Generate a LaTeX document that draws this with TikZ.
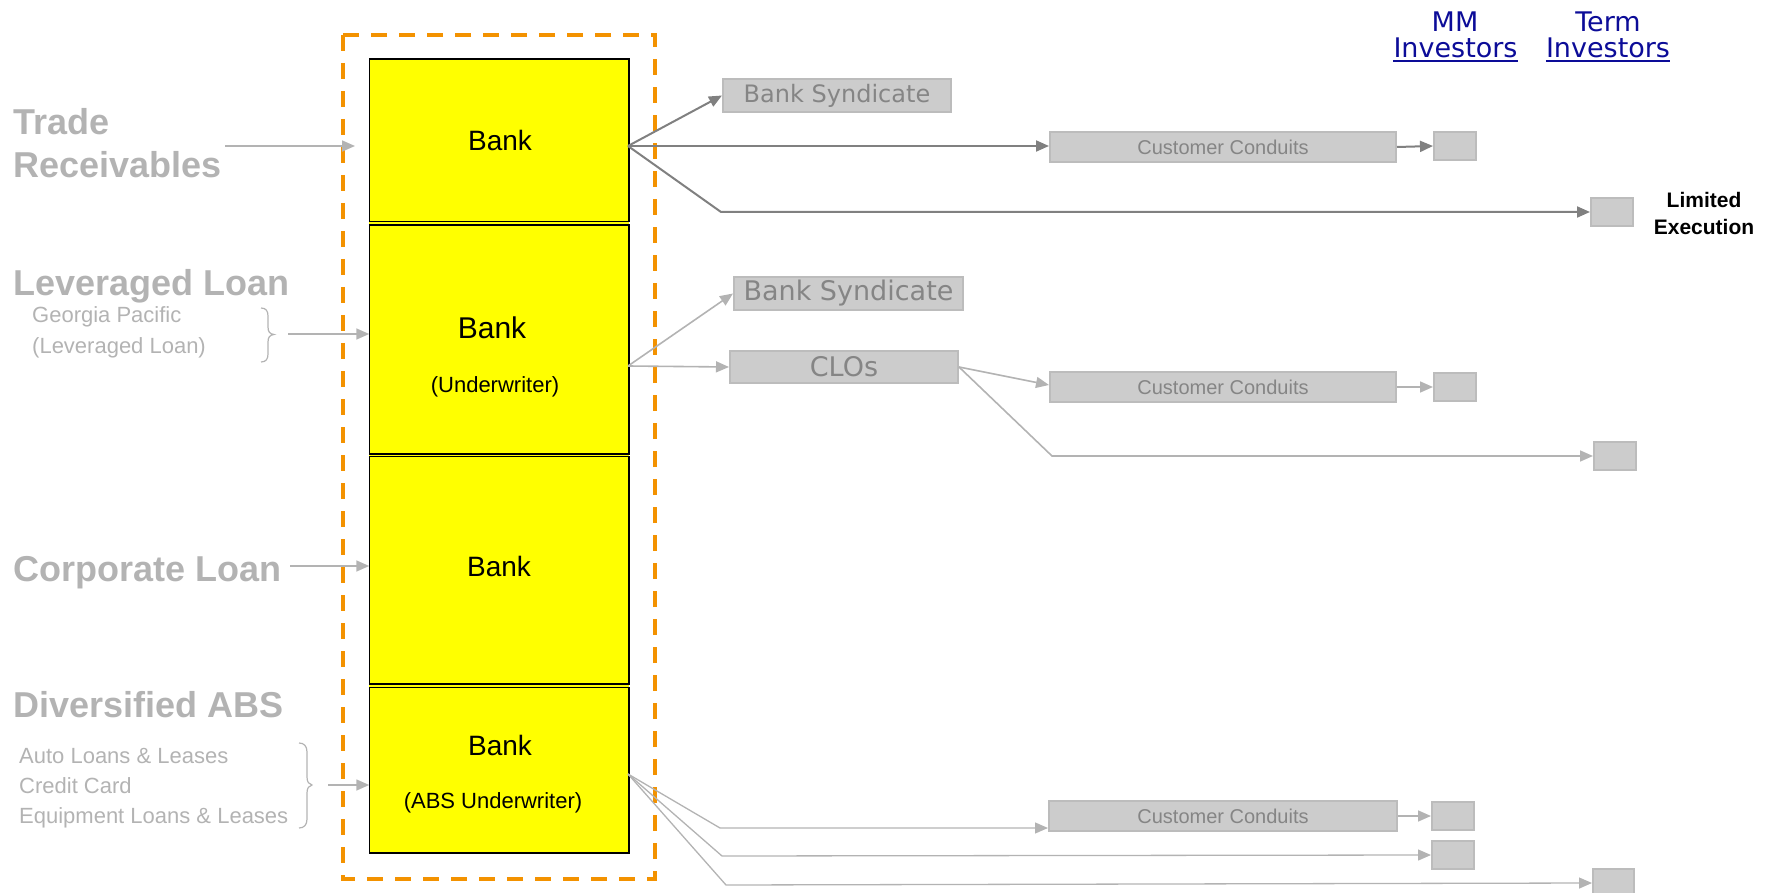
\documentclass[tikz,border=0pt]{standalone}
\usepackage{fontspec}
\setmainfont{Liberation Sans}
\newfontfamily\vfont{DejaVu Sans}
\usetikzlibrary{arrows.meta,calc}

\definecolor{orangeline}{HTML}{F39200}
\definecolor{lightgrey}{HTML}{B3B3B3}
\definecolor{darkgrey}{HTML}{808080}
\definecolor{boxfill}{HTML}{CCCCCC}
\definecolor{boxline}{HTML}{BCBCBC}
\definecolor{boxtext}{HTML}{858585}
\definecolor{invblue}{HTML}{0C0C98}
\definecolor{bankyellow}{HTML}{FFFF00}

\newcommand{\setfs}[1]{\fontsize{#1}{#1}\selectfont}

\tikzset{
  tri/.style={-{Triangle[length=13pt,width=11pt]}},
  darkconn/.style={draw=darkgrey, line width=2pt},
  lightconn/.style={draw=lightgrey, line width=1.6pt},
  thinconn/.style={draw=lightgrey, line width=1.3pt},
  greybox/.style={draw=boxline, line width=2pt, fill=boxfill, inner sep=0pt, text=boxtext},
  bankbox/.style={draw=black, line width=1.5pt, inner sep=0pt, minimum width=258pt},
  banktext/.style={inner sep=0pt, text=black},
  srchead/.style={anchor=base west, inner sep=0pt, text=lightgrey, font=\setfs{36}\bfseries},
  srcsub/.style={anchor=base west, inner sep=0pt, text=lightgrey, font=\setfs{22}},
  invtext/.style={anchor=base, inner sep=0pt, text=invblue, font=\vfont\setfs{27}},
  brace/.style={draw=lightgrey, line width=1.2pt},
}

\begin{document}
\begin{tikzpicture}[x=1pt,y=-1pt]
\useasboundingbox (0,0) rectangle (1773,893);

% ---- bank stack ----
\node[bankbox, minimum height=161pt] (bank1) at (499,140.5) {};
\node[bankbox, minimum height=227pt] (bank2) at (499,339.5) {};
\node[bankbox, minimum height=226pt] (bank3) at (499,570) {};
\node[bankbox, minimum height=164pt] (bank4) at (499,770) {};
\fill[bankyellow] (bank1.north west) rectangle (bank4.south east);
\foreach \b in {bank1,bank2,bank3,bank4}
  \draw[black, line width=1.5pt] (\b.north west) rectangle (\b.south east);

\node[banktext, font=\setfs{28}] (t1) at (500,140) {Bank};
\node[banktext, font=\setfs{30}] (t2a) at (492,328) {Bank};
\node[banktext, font=\setfs{22}] (t2b) at (495,387) {(Underwriter)};
\node[banktext, font=\setfs{28}] (t3) at (499,566) {Bank};
\node[banktext, font=\setfs{28}] (t4a) at (500,745) {Bank};
\node[banktext, font=\setfs{22}] (t4b) at (493,803) {(ABS Underwriter)};

% ---- dashed orange frame ----
\draw[orangeline, line width=4pt, dash pattern=on 16pt off 12pt] (343,35) rectangle (655,879);

% ---- sources on the left ----
\node[srchead] (trade1) at (13,135) {Trade};
\node[srchead] (trade2) at (13,178) {Receivables};
\node[srchead] (lev) at (13,296) {Leveraged Loan};
\node[srcsub] (gp1) at (32,323) {Georgia Pacific};
\node[srcsub] (gp2) at (32,353) {(Leveraged Loan)};
\node[srchead] (corp) at (13,581) {Corporate Loan};
\node[srchead] (abs) at (13,717) {Diversified ABS};
\node[srcsub] (abs1) at (19,763) {Auto Loans \& Leases};
\node[srcsub] (abs2) at (19,793) {Credit Card};
\node[srcsub] (abs3) at (19,823) {Equipment Loans \& Leases};

% braces
\draw[brace] (261,308) .. controls (266,308) and (268,311) .. (268,316) -- (268,327)
  .. controls (268,332) and (270,334) .. (274,334.5)
  .. controls (270,335) and (268,337) .. (268,342) -- (268,354)
  .. controls (268,359) and (266,362) .. (261,362);
\draw[brace] (299,743) .. controls (304,743) and (307,746) .. (307,752) -- (307,777)
  .. controls (307,782) and (309,784.5) .. (312,785)
  .. controls (309,785.5) and (307,788) .. (307,793) -- (307,819)
  .. controls (307,825) and (304,828) .. (299,828);

% inbound arrows
\coordinate (inTrade) at (225,146);
\coordinate (endTrade) at (355,146);
\coordinate (inLev) at (288,334);
\coordinate (inCorp) at (290,566);
\coordinate (inAbs) at (328,785);
\draw[lightconn, tri] (inTrade) -- (endTrade);
\draw[lightconn, tri] (inLev) -- (inLev -| bank2.west);
\draw[lightconn, tri] (inCorp) -- (inCorp -| bank3.west);
\draw[lightconn, tri] (inAbs) -- (inAbs -| bank4.west);

% ---- distribution boxes ----
\node[greybox, minimum width=228pt, minimum height=33pt, font=\vfont\setfs{24}] (bs1) at (837,95.5) {Bank Syndicate};
\node[greybox, minimum width=229pt, minimum height=33pt, font=\vfont\setfs{27}] (bs2) at (848.5,293.5) {Bank Syndicate};
\node[greybox, minimum width=228pt, minimum height=32pt, font=\vfont\setfs{27}] (clo) at (844,367) {CLOs};
\node[greybox, minimum width=346pt, minimum height=30pt, font=\setfs{20}] (cc1) at (1223,147) {Customer Conduits};
\node[greybox, minimum width=346pt, minimum height=29pt, font=\setfs{20}] (cc2) at (1223,387) {Customer Conduits};
\node[greybox, minimum width=348pt, minimum height=30pt, font=\setfs{20}] (cc3) at (1223,816) {Customer Conduits};

\node[greybox, minimum width=42pt, minimum height=28pt] (mm1) at (1455,146) {};
\node[greybox, minimum width=42pt, minimum height=28pt] (mm2) at (1455,387) {};
\node[greybox, minimum width=42pt, minimum height=28pt] (mm3) at (1453,816) {};
\node[greybox, minimum width=42pt, minimum height=28pt] (mm4) at (1453,855) {};
\node[greybox, minimum width=42pt, minimum height=28pt] (te1) at (1612,212) {};
\node[greybox, minimum width=42pt, minimum height=28pt] (te2) at (1615,456) {};
\node[greybox, minimum width=41pt, minimum height=28pt] (te3) at (1613.5,883) {};

% ---- column headings ----
\node[invtext] (mmh) at (1455,32) {MM};
\node[invtext] (mmi) at (1455.5,58) {Investors};
\node[invtext] (tmh) at (1608,32) {Term};
\node[invtext] (tmi) at (1608,58) {Investors};
\draw[invblue, line width=2pt] ($(mmi.base west)+(0,3.5)$) -- ($(mmi.base east)+(0,3.5)$);
\draw[invblue, line width=2pt] ($(tmi.base west)+(0,3.5)$) -- ($(tmi.base east)+(0,3.5)$);

\node[anchor=base, inner sep=0pt, font=\setfs{21}\bfseries] (le1) at (1704,208) {Limited};
\node[anchor=base, inner sep=0pt, font=\setfs{21}\bfseries] (le2) at (1704,235) {Execution};

% ---- trade receivables flows ----
\coordinate (b1out) at (628,146);
\coordinate (k0) at (721,212);
\draw[darkconn, tri] (b1out) -- (bs1.west);
\draw[darkconn, tri] (b1out) -- (b1out -| cc1.west);
\draw[darkconn, tri] (b1out) -- (k0) -- (te1.west);
\draw[darkconn, tri] (cc1.east) -- (mm1.west);

% ---- leveraged loan flows ----
\coordinate (b2out) at (628,366);
\coordinate (k2) at (1052,456);
\draw[lightconn, tri] (b2out) -- (bs2.west);
\draw[lightconn, tri] (b2out) -- (clo.west);
\draw[lightconn, tri] (clo.east) -- ($(cc2.west)+(0,-2)$);
\draw[lightconn, tri] (clo.east) -- (k2) -- (te2.west);
\draw[lightconn, tri] (cc2.east) -- (mm2.west);

% ---- diversified ABS flows ----
\coordinate (b4out) at (628,774);
\coordinate (k3) at (720,828);
\coordinate (k4) at (722,856);
\coordinate (k5) at (726,885);
\draw[thinconn, tri] (b4out) -- (k3) -- (k3 -| cc3.west);
\draw[thinconn, tri] (b4out) -- (k4) -- (mm4.west);
\draw[thinconn, tri] (b4out) -- (k5) -- (te3.west);
\draw[lightconn, tri] (cc3.east) -- (mm3.west);

\end{tikzpicture}
\end{document}
